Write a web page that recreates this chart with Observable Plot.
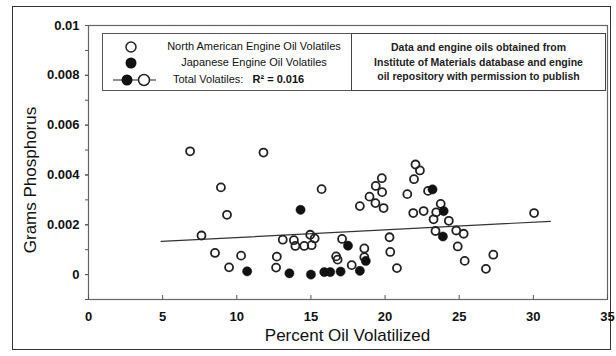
<!DOCTYPE html>
<html>
<head>
<meta charset="utf-8">
<script src="https://cdn.jsdelivr.net/npm/d3@7"></script>
<script src="https://cdn.jsdelivr.net/npm/@observablehq/plot@0.6"></script>
<style>
  html, body { margin: 0; padding: 0; background: #fff; }
  #wrap { position: relative; width: 616px; height: 356px; background: #fff; font-family: "Liberation Sans", Arial, sans-serif; color: #111; overflow: hidden; }
  #outer { position: absolute; left: 12px; top: 6px; width: 599px; height: 344px; border: 1.5px solid #333; box-sizing: border-box; }
  #chart { position: absolute; left: 0; top: 0; }
  #legend { position: absolute; left: 102px; top: 33px; width: 250px; height: 58px; border: 1.2px solid #555; box-sizing: border-box; background: #fff; font-size: 11px; }
  #note { position: absolute; left: 351px; top: 33px; width: 255px; height: 58px; border: 1.6px solid #444; box-sizing: border-box; background: #fff; font-size: 10.5px; font-weight: bold; text-align: center; line-height: 14.5px; padding-top: 6px; color: #222; }
  .row { position: absolute; left: 0; width: 100%; height: 16px; }
  .row svg { position: absolute; left: 0; top: 0; }
  .row span { position: absolute; white-space: nowrap; }
  #xlabel { position: absolute; left: 88px; width: 519px; top: 326px; text-align: center; font-size: 17px; line-height: 20px; white-space: nowrap; }
  #ylabel { position: absolute; left: 31px; top: 180px; font-size: 17px; line-height: 20px; white-space: nowrap; transform: translate(-50%, -50%) rotate(-90deg); }
</style>
</head>
<body>
<div id="wrap">
  <div id="outer"></div>
  <div id="chart"></div>
  <div id="legend"></div>
  <div id="note"></div>
  <div id="xlabel"></div>
  <div id="ylabel"></div>
</div>
<script>
// ---- data ----
const naX = [6.85, 11.8, 8.93, 9.34, 7.62, 8.53, 10.29, 9.48,
  15.72, 13.1, 13.85, 13.95, 14.55, 14.95, 15.05, 15.25,
  12.7, 12.65, 17.1, 16.7, 16.8, 17.75, 18.6, 18.6,
  18.3, 18.95, 19.37, 19.78, 19.8, 19.35, 19.9,
  20.3, 20.35, 20.8,
  21.5, 21.95, 22.05, 22.35, 21.9, 22.6, 22.9,
  23.75, 23.45, 23.27, 24.3, 23.4, 24.8, 25.3, 24.9, 25.37, 26.8, 27.3, 30.05];
const naY = [0.00495, 0.0049, 0.0035, 0.0024, 0.00157, 0.00087, 0.00076, 0.00029,
  0.00343, 0.0014, 0.00138, 0.00115, 0.00115, 0.0016, 0.00118, 0.00145,
  0.00072, 0.00028, 0.00143, 0.00073, 0.0006, 0.00038, 0.00105, 0.0007,
  0.00275, 0.00313, 0.00356, 0.00387, 0.00331, 0.00287, 0.00267,
  0.0015, 0.00091, 0.00026,
  0.00323, 0.00383, 0.00442, 0.00418, 0.00247, 0.00255, 0.00336,
  0.00284, 0.0025, 0.00222, 0.00216, 0.00175, 0.00177, 0.00164, 0.00113, 0.00055, 0.00023, 0.0008, 0.00247];
const jpX = [10.7, 14.3, 13.55, 15.0, 15.9, 16.3, 17.0, 17.5, 18.3, 18.7, 23.2, 23.95, 23.9];
const jpY = [0.00013, 0.0026, 0.00005, 0.0, 0.0001, 0.0001, 0.00012, 0.00116, 0.00015, 0.00055, 0.00342, 0.00255, 0.00153];
const trendX = [4.9, 31.15];
const trendY = [0.00133, 0.00214];
const xTicks = [0, 5, 10, 15, 20, 25, 30, 35];
const yTicks = [0, 0.002, 0.004, 0.006, 0.008, 0.01];
const yTickLabels = ["0", "0.002", "0.004", "0.006", "0.008", "0.01"];
const yMinorTicks = [-0.001, 0, 0.001, 0.002, 0.003, 0.004, 0.005, 0.006, 0.007, 0.008, 0.009, 0.01];
const xLabel = "Percent Oil Volatilized";
const yLabel = "Grams Phosphorus";
const legendLabels = ["North American Engine Oil Volatiles", "Japanese Engine Oil Volatiles", "Total Volatiles:"];
const r2Label = "R\u00B2 = 0.016";
const noteLines = ["Data and engine oils obtained from", "Institute of Materials database and engine", "oil repository with permission to publish"];

// ---- tables ----
const na = naX.map((x, i) => ({x, y: naY[i]}));
const jp = jpX.map((x, i) => ({x, y: jpY[i]}));
const trend = trendX.map((x, i) => ({x, y: trendY[i]}));

const chart = Plot.plot({
  width: 616,
  height: 356,
  marginLeft: 88,
  marginRight: 9,
  marginTop: 25,
  marginBottom: 57,
  style: {fontFamily: "'Liberation Sans', Arial, sans-serif", background: "transparent", color: "#111"},
  x: {domain: [0, 35]},
  y: {domain: [-0.001, 0.01]},
  marks: [
    Plot.frame({stroke: "#666", strokeWidth: 1.2}),
    Plot.axisY(yMinorTicks, {tickSize: 3, tickFormat: () => "", label: null, stroke: "#555"}),
    Plot.axisY(yTicks, {tickSize: 3, tickPadding: 6, tickFormat: d => yTickLabels[yTicks.indexOf(d)], label: null, fontSize: 13, fontWeight: "bold", stroke: "#555"}),
    Plot.axisX(xTicks, {tickSize: -4, tickPadding: 16, tickFormat: d => String(d), label: null, fontSize: 13, fontWeight: "bold", stroke: "#555"}),
    Plot.line(trend, {x: "x", y: "y", stroke: "#333", strokeWidth: 1.2}),
    Plot.dot(na, {x: "x", y: "y", r: 4, stroke: "#222", strokeWidth: 1.8, fill: "none"}),
    Plot.dot(jp, {x: "x", y: "y", r: 4.6, fill: "#111", stroke: "#111", strokeWidth: 0.5})
  ]
});
document.getElementById("chart").appendChild(chart);
document.getElementById("xlabel").textContent = xLabel;
document.getElementById("ylabel").textContent = yLabel;

// ---- legend ----
const legend = document.getElementById("legend");
const rows = [
  {top: 5, sym: '<circle cx="28" cy="8" r="5" fill="none" stroke="#222" stroke-width="1.5"/>', text: legendLabels[0], center: true},
  {top: 21, sym: '<circle cx="28" cy="8" r="5.5" fill="#111"/>', text: legendLabels[1], center: true},
  {top: 38, sym: '<line x1="10" y1="8" x2="53" y2="8" stroke="#222" stroke-width="1.2"/><circle cx="24" cy="8" r="5.5" fill="#111"/><circle cx="41" cy="8" r="5.5" fill="#fff" stroke="#222" stroke-width="1.5"/>', text: legendLabels[2], center: false}
];
rows.forEach(r => {
  const div = document.createElement("div");
  div.className = "row";
  div.style.top = r.top + "px";
  div.innerHTML = '<svg width="60" height="16">' + r.sym + '</svg>';
  const span = document.createElement("span");
  if (r.center) {
    span.style.left = "151px";
    span.style.transform = "translateX(-50%)";
    span.textContent = r.text;
  } else {
    span.style.left = "70px";
    span.innerHTML = r.text + '&nbsp;&nbsp;&nbsp;<b>' + r2Label + '</b>';
  }
  span.style.top = "1px";
  div.appendChild(span);
  legend.appendChild(div);
});

// ---- note ----
document.getElementById("note").innerHTML = noteLines.join("<br>");
</script>
</body>
</html>
